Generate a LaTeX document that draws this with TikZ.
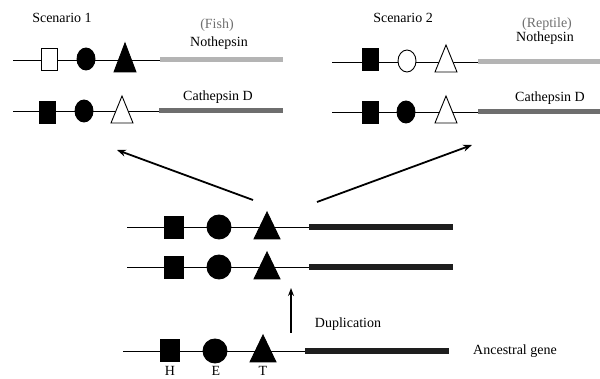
\documentclass[tikz,border=0pt]{standalone}
\usepackage{fontspec}
\setmainfont{Liberation Serif}
\usetikzlibrary{shapes.geometric,arrows.meta}
\definecolor{lightbar}{HTML}{B4B4B4}
\definecolor{darkbar}{HTML}{6E6E6E}
\definecolor{blackbar}{HTML}{1E1E1E}
\definecolor{labgray}{HTML}{707070}
\tikzset{
  gline/.style={line width=0.9pt,black},
  lbar/.style={line width=5pt,lightbar},
  dbar/.style={line width=5pt,darkbar},
  bbar/.style={line width=6.5pt,blackbar},
  sbox/.style={rectangle,draw,line width=0.9pt,inner sep=0pt,minimum width=16pt,minimum height=22pt},
  mbox/.style={rectangle,draw,line width=0.9pt,inner sep=0pt,minimum width=19pt,minimum height=22pt,fill=black},
  sell/.style={ellipse,draw,line width=0.9pt,inner sep=0pt,minimum width=18pt,minimum height=22pt},
  mcirc/.style={circle,draw,line width=0.9pt,inner sep=0pt,minimum size=24pt,fill=black},
  lab/.style={font=\fontsize{14}{16}\selectfont,inner sep=0pt},
  glab/.style={lab,text=labgray},
  bigarrow/.style={line width=1.8pt,-{Stealth[length=9pt,width=7pt]}},
  uparrow/.style={line width=1.4pt,-{Stealth[length=8pt,width=6pt]}},
  stri/.pic={\filldraw[line width=0.9pt] (-11,0) -- (0,-29) -- (11,0) -- cycle;},
  stridw/.pic={\filldraw[line width=0.9pt,fill=white] (-11,0) -- (0,-27) -- (11,0) -- cycle;},
  mtri/.pic={\filldraw[line width=0.9pt] (-13,0) -- (0,-27) -- (13,0) -- cycle;},
}
\begin{document}
\begin{tikzpicture}[x=1pt,y=-1pt]
\useasboundingbox[fill=white] (0,0) rectangle (600,379);

% ---------- Scenario 1 ----------
\node[lab] (sc1) at (62,18) {Scenario 1};
\node[glab] (fish) at (217,25) {(Fish)};
\node[lab] (noth1) at (219,43) {Nothepsin};
\node[lab] (cath1) at (218,97) {Cathepsin D};
% row A
\coordinate (a1s) at (13,60); \coordinate (a1e) at (160,60); \coordinate (a1b) at (283,60);
\draw[gline] (a1s) -- (a1e);
\draw[lbar] (a1e) -- (a1b);
\node[sbox,fill=white] (a1h) at (49,59) {};
\node[sell,fill=black] (a1x) at (86,59) {};
\pic at (125,72) {stri};
% row B
\coordinate (b1s) at (13,111); \coordinate (b1e) at (159,111); \coordinate (b1b) at (283,111);
\draw[gline] (b1s) -- (b1e);
\draw[dbar] (b1e) -- (b1b);
\node[sbox,fill=black] (b1h) at (47,112) {};
\node[sell,fill=black] (b1x) at (84,111) {};
\pic at (122,123) {stridw};

% ---------- Scenario 2 ----------
\node[lab] (sc2) at (403,18) {Scenario 2};
\node[glab] (rep) at (547,24) {(Reptile)};
\node[lab] (noth2) at (545,38) {Nothepsin};
\node[lab] (cath2) at (550,98) {Cathepsin D};
% row A
\coordinate (a2s) at (332,62); \coordinate (a2e) at (478,62); \coordinate (a2b) at (600,62);
\draw[gline] (a2s) -- (a2e);
\draw[lbar] (a2e) -- (a2b);
\node[sbox,fill=black] (a2h) at (370,59) {};
\node[sell,fill=white] (a2x) at (407,61) {};
\pic at (446,72) {stridw};
% row B
\coordinate (b2s) at (332,112); \coordinate (b2e) at (478,112); \coordinate (b2b) at (600,112);
\draw[gline] (b2s) -- (b2e);
\draw[dbar] (b2e) -- (b2b);
\node[sbox,fill=black] (b2h) at (370,112) {};
\node[sell,fill=black] (b2x) at (406,112) {};
\pic at (446,123) {stridw};

% ---------- Duplicated genes ----------
\coordinate (d1s) at (127,227); \coordinate (d1e) at (309,227); \coordinate (d1b) at (453,227);
\draw[gline] (d1s) -- (d1e);
\draw[bbar] (d1e) -- (d1b);
\node[mbox] (d1h) at (173.5,227) {};
\node[mcirc] (d1x) at (219,227) {};
\pic at (267,239) {mtri};

\coordinate (d2s) at (127,267); \coordinate (d2e) at (309,267); \coordinate (d2b) at (453,267);
\draw[gline] (d2s) -- (d2e);
\draw[bbar] (d2e) -- (d2b);
\node[mbox] (d2h) at (173.5,267) {};
\node[mcirc] (d2x) at (219,267) {};
\pic at (267,279) {mtri};

% ---------- Ancestral gene ----------
\coordinate (ans) at (123,351); \coordinate (ane) at (305,351); \coordinate (anb) at (449,351);
\draw[gline] (ans) -- (ane);
\draw[bbar] (ane) -- (anb);
\node[mbox] (anh) at (169.5,350.5) {};
\node[mcirc] (anx) at (215,351) {};
\pic at (263,362) {mtri};
\node[lab] (anc) at (515,351) {Ancestral gene};
\node[lab,anchor=base] (lh) at (170,375.5) {H};
\node[lab,anchor=base] (le) at (216,375.5) {E};
\node[lab,anchor=base] (lt) at (263,375.5) {T};

% ---------- Arrows ----------
\coordinate (upS) at (291,333); \coordinate (upE) at (291,288);
\draw[uparrow] (upS) -- (upE);
\node[lab] (dup) at (348,324) {Duplication};
\coordinate (lS) at (253,200); \coordinate (lE) at (117,150);
\draw[bigarrow] (lS) -- (lE);
\coordinate (rS) at (317,202); \coordinate (rE) at (472,145);
\draw[bigarrow] (rS) -- (rE);
\end{tikzpicture}
\end{document}
